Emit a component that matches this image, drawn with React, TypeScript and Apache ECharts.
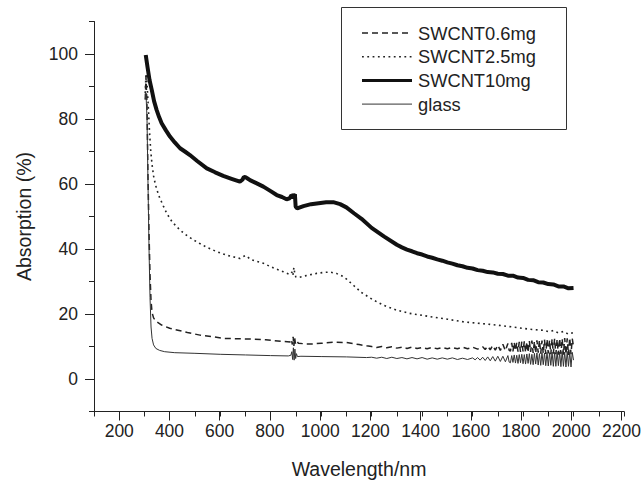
import React, { useEffect, useRef } from "react";
import * as echarts from "echarts";

const FONT = '"Liberation Sans", Arial, Helvetica, sans-serif';

const seriesNames = ["SWCNT0.6mg", "SWCNT2.5mg", "SWCNT10mg", "glass"];
const xTicksMajor = { min: 200, max: 2200, step: 200 };
const yTicksMajor = { min: 0, max: 100, step: 20 };

// [wavelength nm, absorption %]
const swcnt06: number[][] = [
  [303, 86], [306, 93], [310, 84], [314, 62], [318, 45], [322, 32], [326, 24], [330, 20.5],
  [336, 18.8], [345, 17.8], [368, 16.6], [400, 15.6], [428, 15.1], [470, 14.3], [520, 13.5],
  [570, 13.0], [612, 12.5], [660, 12.4], [718, 12.3], [780, 12.1], [840, 11.6], [877, 11.4],
  [882, 12.2], [886, 10.6], [889, 13.0], [892, 10.2], [895, 12.8], [898, 10.9], [902, 11.8],
  [910, 11.0], [940, 10.8], [969, 10.8], [1000, 11.0], [1050, 11.3], [1101, 11.2], [1150, 10.6],
  [1180, 10.2], [1200, 10.0], [1220, 9.7], [1240, 10.0], [1260, 9.6], [1280, 9.9], [1300, 9.5],
  [1320, 9.8], [1340, 9.4], [1360, 9.8], [1380, 9.4], [1400, 9.7], [1420, 9.3], [1440, 9.7],
  [1460, 9.3], [1480, 9.7], [1500, 9.3], [1520, 9.7], [1540, 9.3], [1560, 9.8], [1580, 9.3],
  [1600, 9.8], [1620, 9.2], [1640, 9.9], [1650, 9.1], [1660, 10.1], [1670, 9.0], [1680, 10.3],
  [1690, 8.9], [1700, 10.4], [1710, 8.8], [1720, 10.7], [1730, 8.7], [1740, 10.9], [1745, 8.8],
  [1750, 8.6], [1755, 11.1], [1760, 8.5], [1765, 11.3], [1770, 8.7], [1775, 11.2], [1780, 8.4],
  [1785, 11.4], [1790, 8.3], [1795, 11.5], [1800, 8.5], [1805, 11.6], [1810, 8.2], [1815, 11.4],
  [1820, 8.1], [1825, 11.7], [1830, 8.3], [1835, 11.8], [1840, 8.0], [1845, 11.6], [1850, 7.9],
  [1855, 11.9], [1860, 8.1], [1865, 12.0], [1870, 7.8], [1875, 11.8], [1880, 7.9], [1885, 12.1],
  [1890, 7.7], [1895, 12.2], [1900, 7.9], [1905, 12.0], [1910, 7.6], [1915, 12.3], [1920, 7.8],
  [1925, 12.4], [1930, 7.6], [1935, 12.2], [1940, 7.5], [1945, 12.5], [1950, 7.7], [1955, 12.4],
  [1960, 7.5], [1965, 12.6], [1970, 7.6], [1975, 12.5], [1980, 7.4], [1985, 12.7], [1990, 7.6],
  [1995, 12.4], [2000, 10.0],
];

const swcnt25: number[][] = [
  [303, 88], [306, 94], [310, 91], [315, 84], [320, 76], [325, 70], [330, 66], [336, 62.5],
  [342, 60.3], [348, 58.5], [360, 55.8], [375, 53.2], [388, 51.0], [410, 48.3], [441, 45.8],
  [470, 44.0], [507, 42.2], [545, 40.6], [586, 39.2], [630, 38.0], [678, 37.1], [692, 37.7],
  [700, 38.0], [708, 37.6], [720, 36.8], [745, 36.2], [771, 35.6], [810, 34.2], [850, 33.0],
  [875, 32.2], [884, 32.9], [888, 31.8], [892, 34.3], [896, 32.2], [900, 31.4], [909, 31.2],
  [940, 31.8], [982, 32.5], [1010, 32.8], [1035, 32.9], [1060, 32.5], [1085, 31.6], [1101, 30.7],
  [1130, 28.7], [1160, 26.6], [1207, 24.3], [1250, 22.6], [1299, 21.2], [1350, 20.2],
  [1431, 19.2], [1500, 18.4], [1563, 17.6], [1630, 17.1], [1695, 16.6], [1760, 16.0],
  [1827, 15.3], [1880, 15.0], [1900, 14.6], [1920, 14.9], [1940, 14.2], [1960, 14.6],
  [1980, 13.8], [2000, 14.3],
];

const swcnt10: number[][] = [
  [305, 99.7], [312, 96], [320, 92], [329, 88.9], [338, 85.5], [348, 82.8], [358, 80.6],
  [368, 78.7], [385, 76.5], [401, 74.6], [420, 72.8], [441, 71.0], [460, 70.0], [480, 68.9],
  [510, 67.0], [547, 64.8], [580, 63.6], [612, 62.5], [645, 61.6], [678, 60.7], [688, 61.3],
  [694, 62.2], [700, 62.1], [710, 61.6], [718, 61.2], [745, 60.2], [771, 59.2], [800, 57.8],
  [824, 56.6], [845, 56.0], [863, 55.3], [875, 55.6], [883, 56.6], [887, 55.6], [890, 57.0],
  [893, 55.8], [896, 56.9], [899, 53.0], [905, 52.5], [930, 53.2], [960, 53.8], [990, 54.1],
  [1020, 54.4], [1048, 54.4], [1075, 53.8], [1100, 52.8], [1130, 51.0], [1160, 49.3],
  [1200, 46.5], [1250, 43.8], [1300, 41.3], [1320, 40.5], [1340, 39.8], [1360, 39.3],
  [1380, 38.7], [1400, 38.3], [1420, 37.7], [1440, 37.3], [1460, 36.8], [1480, 36.4],
  [1500, 35.9], [1520, 35.5], [1540, 35.0], [1560, 34.7], [1580, 34.2], [1600, 34.0],
  [1620, 33.5], [1640, 33.3], [1660, 32.9], [1680, 32.8], [1700, 32.4], [1720, 32.3],
  [1740, 31.8], [1760, 31.8], [1780, 31.2], [1800, 31.1], [1820, 30.5], [1840, 30.4],
  [1860, 29.8], [1880, 29.7], [1900, 29.2], [1920, 29.1], [1940, 28.5], [1960, 28.5],
  [1980, 27.9], [2000, 28.0],
];

const glass: number[][] = [
  [303, 86], [306, 88], [310, 80], [314, 60], [318, 40], [322, 25], [326, 16], [330, 12.5],
  [336, 10.5], [345, 9.4], [360, 8.8], [380, 8.4], [420, 8.1], [500, 7.9], [600, 7.6],
  [700, 7.4], [800, 7.2], [870, 7.1], [880, 7.3], [884, 8.4], [887, 6.0], [890, 9.6], [893, 5.8],
  [896, 9.2], [899, 6.3], [902, 7.8], [906, 6.9], [920, 7.0], [1000, 6.9], [1100, 6.8],
  [1180, 6.6], [1200, 6.7], [1220, 6.4], [1240, 6.7], [1260, 6.3], [1280, 6.7], [1300, 6.3],
  [1320, 6.6], [1340, 6.2], [1360, 6.6], [1380, 6.2], [1400, 6.6], [1420, 6.1], [1440, 6.5],
  [1460, 6.1], [1480, 6.5], [1500, 6.1], [1520, 6.5], [1540, 6.0], [1560, 6.4], [1580, 6.0],
  [1600, 6.5], [1610, 5.9], [1620, 6.6], [1630, 5.8], [1640, 6.7], [1650, 5.7], [1660, 6.8],
  [1670, 5.6], [1680, 6.9], [1690, 5.5], [1700, 7.0], [1710, 5.4], [1720, 7.0], [1730, 5.3],
  [1740, 7.2], [1745, 5.2],
  [1750, 5.0], [1755, 7.2], [1760, 5.1], [1765, 7.4], [1770, 4.9], [1775, 7.3], [1780, 4.8],
  [1785, 7.5], [1790, 5.0], [1795, 7.6], [1800, 4.7], [1805, 7.5], [1810, 4.6], [1815, 7.7],
  [1820, 4.8], [1825, 7.8], [1830, 4.5], [1835, 7.6], [1840, 4.4], [1845, 7.9], [1850, 4.6],
  [1855, 8.0], [1860, 4.3], [1865, 7.8], [1870, 4.2], [1875, 8.1], [1880, 4.4], [1885, 8.0],
  [1890, 4.1], [1895, 8.2], [1900, 4.0], [1905, 8.1], [1910, 4.2], [1915, 8.3], [1920, 3.9],
  [1925, 8.2], [1930, 3.9], [1935, 8.4], [1940, 4.1], [1945, 8.3], [1950, 3.8], [1955, 8.5],
  [1960, 3.9], [1965, 8.3], [1970, 3.7], [1975, 8.5], [1980, 3.9], [1985, 8.4], [1990, 3.7],
  [1995, 8.2], [2000, 5.8],
];

const seriesStyles = [
  { color: "#222", width: 1.5, type: [6, 4] as number[] | "solid" },
  { color: "#222", width: 1.6, type: [1.8, 3.5] as number[] | "solid" },
  { color: "#111", width: 4, type: "solid" as number[] | "solid" },
  { color: "#333", width: 1, type: "solid" as number[] | "solid" },
];
const legendWidths = [1.5, 1.6, 3, 1];

const AXIS_COLOR = "#222";
const TEXT_COLOR = "#222";

export default function App() {
  const ref = useRef<HTMLDivElement>(null);
  useEffect(() => {
    document.body.style.margin = "0";
    const chart = echarts.init(ref.current!, null, { renderer: "svg" });
    const axisLine = { show: true, onZero: false, lineStyle: { color: AXIS_COLOR, width: 1 } };
    const tickStyle = { color: AXIS_COLOR, width: 1 };
    const labelStyle = { fontSize: 17.5, color: TEXT_COLOR, fontFamily: FONT };
    const fmt = (v: number) => String(v);

    const legendTop = 33;
    const legendStep = 23.7;
    const legendGraphics: any[] = [];
    seriesNames.forEach((name, i) => {
      const y = legendTop + i * legendStep;
      const st = seriesStyles[i];
      legendGraphics.push({
        type: "line",
        shape: { x1: 362, y1: y, x2: 412, y2: y },
        style: {
          stroke: st.color,
          lineWidth: legendWidths[i],
          lineDash: st.type === "solid" ? null : st.type,
        },
        silent: true,
      });
      legendGraphics.push({
        type: "text",
        x: 418,
        y,
        style: {
          text: name,
          fontSize: 18.3,
          fontFamily: FONT,
          fill: TEXT_COLOR,
          verticalAlign: "middle",
          align: "left",
        },
        silent: true,
      });
    });

    chart.setOption({
      animation: false,
      backgroundColor: "#fff",
      textStyle: { fontFamily: FONT },
      grid: [
        { left: 94, top: 21.5, width: 530, height: 390 },
        { left: 119.24, top: 21.5, width: 504.76, height: 390 },
        { left: 94, top: 54, width: 530, height: 325 },
      ],
      xAxis: [
        {
          gridIndex: 0, type: "value", min: 100, max: 2200, interval: 100,
          axisLine, axisTick: { show: true, inside: false, length: 5, lineStyle: tickStyle },
          axisLabel: { show: false }, splitLine: { show: false },
          name: "Wavelength/nm", nameLocation: "middle", nameGap: 47,
          nameTextStyle: { ...labelStyle, fontSize: 19.5 },
        },
        {
          gridIndex: 1, type: "value", min: xTicksMajor.min, max: xTicksMajor.max, interval: xTicksMajor.step,
          axisLine: { show: false, onZero: false },
          axisTick: { show: true, inside: false, length: 9, lineStyle: tickStyle },
          axisLabel: { ...labelStyle, margin: 10, formatter: fmt }, splitLine: { show: false },
        },
        { gridIndex: 2, type: "value", min: 0, max: 1, show: false },
      ],
      yAxis: [
        {
          gridIndex: 0, type: "value", min: -10, max: 110, interval: 10,
          axisLine, axisTick: { show: true, inside: false, length: 5, lineStyle: tickStyle },
          axisLabel: { show: false }, splitLine: { show: false },
          name: "Absorption (%)", nameLocation: "middle", nameGap: 60, nameRotate: 90,
          nameTextStyle: { ...labelStyle, fontSize: 19.5 },
        },
        { gridIndex: 1, type: "value", min: 0, max: 1, show: false },
        {
          gridIndex: 2, type: "value", min: yTicksMajor.min, max: yTicksMajor.max, interval: yTicksMajor.step,
          axisLine: { show: false, onZero: false },
          axisTick: { show: true, inside: false, length: 9, lineStyle: tickStyle },
          axisLabel: { ...labelStyle, margin: 16, formatter: fmt }, splitLine: { show: false },
        },
      ],
      graphic: [
        {
          type: "rect",
          shape: { x: 341.5, y: 7.5, width: 225, height: 122 },
          style: { fill: "#fff", stroke: "#333", lineWidth: 1 },
          silent: true,
        },
        ...legendGraphics,
      ],
      series: [swcnt06, swcnt25, swcnt10, glass].map((data, i) => ({
        name: seriesNames[i],
        type: "line",
        data,
        symbol: "none",
        showSymbol: false,
        itemStyle: { color: seriesStyles[i].color },
        lineStyle: { ...seriesStyles[i] },
        z: i === 2 ? 2 : 3,
      })),
    });
    return () => chart.dispose();
  }, []);
  return <div ref={ref} style={{ width: 644, height: 490 }} />;
}
